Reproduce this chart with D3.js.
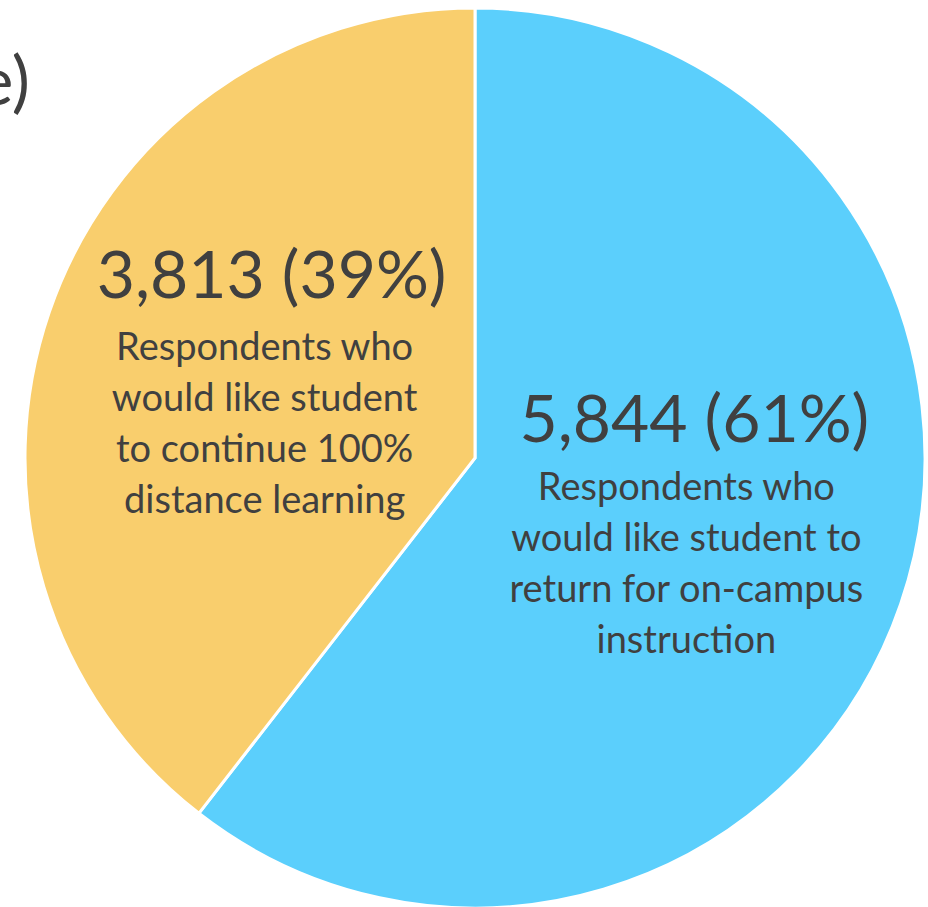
<!DOCTYPE html>
<html>
<head>
<meta charset="utf-8">
<script src="https://cdn.jsdelivr.net/npm/d3@7"></script>
<style>
	body { margin: 0; background: #fff; }
	svg { display: block; }
	text { font-family: Lato, "Open Sans", sans-serif; fill: #404040; }
</style>
</head>
<body>
<div id="chart"></div>
<script>
var categories = ['on-campus', 'distance'];
var values = [5844, 3813];
var descriptions = [
	['Respondents who', 'would like student to', 'return for on-campus', 'instruction'],
	['Respondents who', 'would like student', 'to continue 100%', 'distance learning']
];
var colors = ['#5BCFFC', '#F9CE6D'];

chart = {
	width: 928,
	height: 907,
	cx: 475,
	cy: 458,
	r: 450,

	draw: function() {
		var svg = d3.select('#chart').append('svg')
			.attr('width', this.width)
			.attr('height', this.height);

		// title cut off on the left edge
		svg.append('text')
			.attr('x', 30)
			.attr('y', 105)
			.attr('text-anchor', 'end')
			.style('font-size', '68px')
			.text('Response)');

		var total = d3.sum(values);
		var data = categories.map(function(c, i) {
			return { name: c, value: values[i], lines: descriptions[i], color: colors[i] };
		});

		var pie = d3.pie().sort(null).value(function(d) { return d.value; });
		var arc = d3.arc().innerRadius(0).outerRadius(this.r);
		var labelArc = d3.arc().innerRadius(215).outerRadius(215);

		var g = svg.append('g')
			.attr('transform', 'translate(' + this.cx + ',' + this.cy + ')');

		var arcs = pie(data);

		g.selectAll('.slice').data(arcs)
			.enter().append('path')
				.attr('class', 'slice')
				.attr('d', arc)
				.style('fill', function(d) { return d.data.color; })
				.style('stroke', '#fff')
				.style('stroke-width', '3px');

		var fmt = d3.format(',');
		var shift = [[8, -28], [-7, -28]];

		var labels = g.selectAll('.label').data(arcs)
			.enter().append('g')
				.attr('class', 'label')
				.attr('transform', function(d, i) {
					var c = labelArc.centroid(d);
					return 'translate(' + (c[0] + shift[i][0]) + ',' + (c[1] + shift[i][1]) + ')';
				});

		labels.append('text')
			.attr('text-anchor', 'middle')
			.attr('x', function(d, i) { return i == 0 ? 8 : 7; })
			.attr('y', function(d, i) { return i == 0 ? -58 : -62; })
			.style('font-size', '66px')
			.text(function(d) {
				return fmt(d.data.value) + ' (' + Math.round(d.data.value / total * 100) + '%)';
			});

		labels.each(function(d) {
			d3.select(this).selectAll('.desc').data(d.data.lines)
				.enter().append('text')
					.attr('class', 'desc')
					.attr('text-anchor', 'middle')
					.attr('y', function(l, j) { return j * 51; })
					.style('font-size', '38px')
					.text(function(l) { return l; });
		});
	}
}

window.onload = function() {
	chart.draw();
}
</script>
</body>
</html>
